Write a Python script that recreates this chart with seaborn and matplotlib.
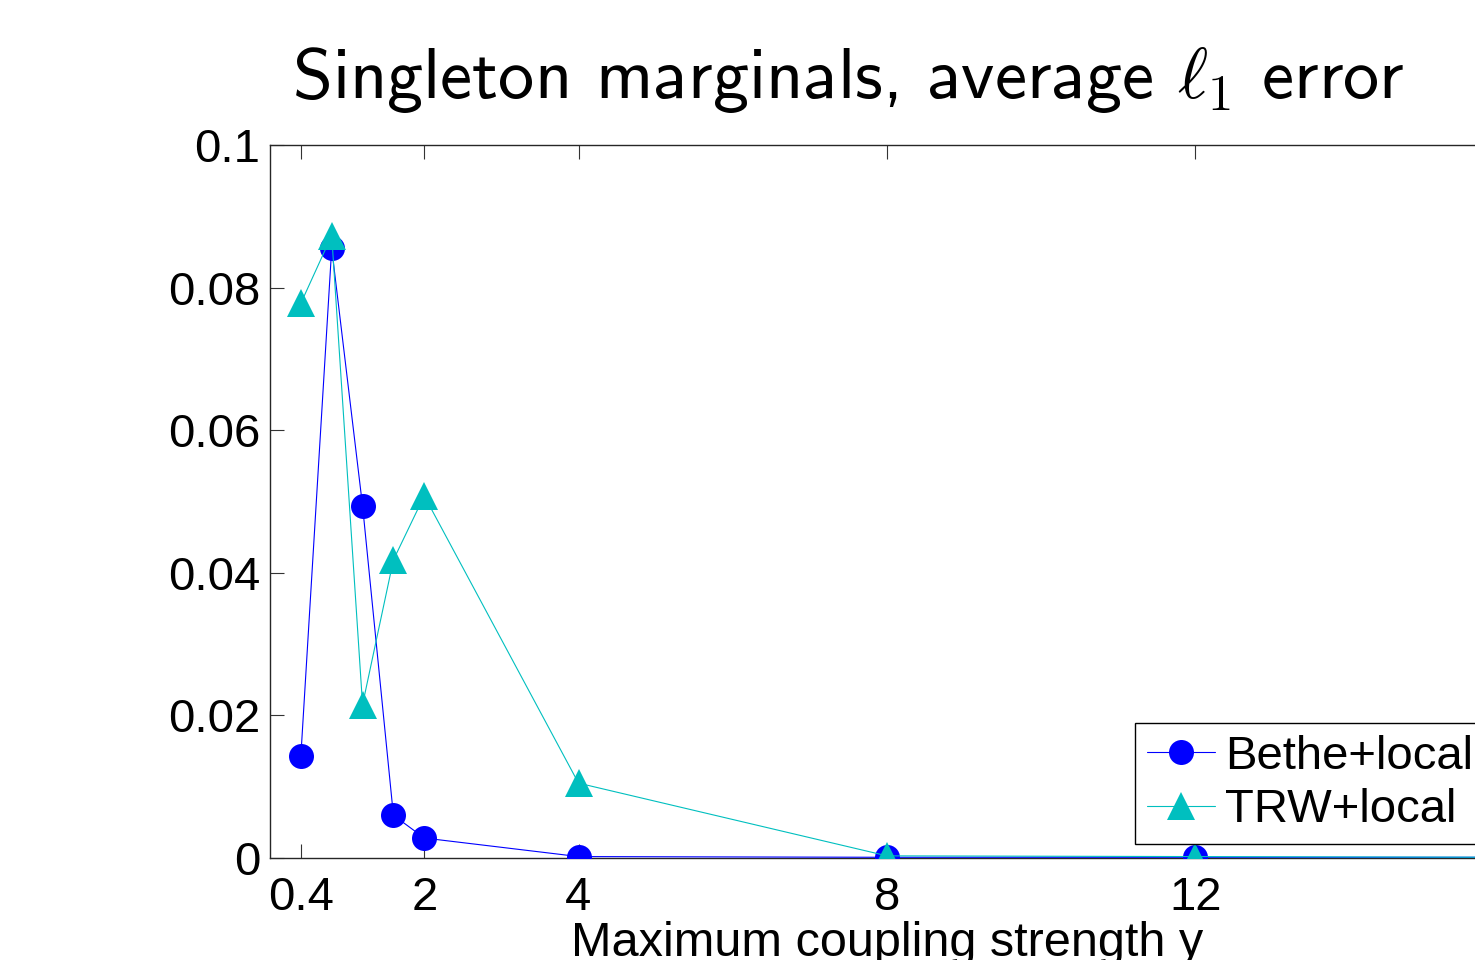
import matplotlib
matplotlib.use("Agg")
import matplotlib.pyplot as plt
import seaborn as sns
import pandas as pd

x_vals = [0.4, 0.8, 1.2, 1.6, 2, 4, 8, 12, 16]
bethe = [0.0143, 0.0855, 0.0494, 0.0060, 0.0028, 0.0002, 0.0001, 0.0001, 0.0001]
trw = [0.0778, 0.0873, 0.0215, 0.0418, 0.0508, 0.0105, 0.0003, 0.0002, 0.0001]
x_ticks = [0.4, 2, 4, 8, 12]
x_ticklabels = ["0.4", "2", "4", "8", "12"]
y_ticks = [0, 0.02, 0.04, 0.06, 0.08, 0.1]
y_ticklabels = ["0", "0.02", "0.04", "0.06", "0.08", "0.1"]
series_names = ["Bethe+local", "TRW+local"]

sns.set_style("ticks")
plt.rcParams["font.family"] = ["Liberation Sans", "DejaVu Sans"]
plt.rcParams["mathtext.fontset"] = "cm"
plt.rcParams["text.color"] = "black"
plt.rcParams["axes.labelcolor"] = "black"

fig = plt.figure(figsize=(14.75, 9.6), dpi=100)
W, H = 1475, 960
ax = fig.add_axes([270 / W, (H - 858) / H, 1234 / W, (858 - 145) / H])

df = pd.DataFrame({"x": x_vals * 2,
                   "y": bethe + trw,
                   "s": [series_names[0]] * len(x_vals) + [series_names[1]] * len(x_vals)})

sns.lineplot(data=df[df.s == series_names[0]], x="x", y="y", ax=ax, color="#0000ff",
             marker="o", markersize=18, markeredgewidth=0, linewidth=0.8,
             label=series_names[0], legend=False, zorder=3)
sns.lineplot(data=df[df.s == series_names[1]], x="x", y="y", ax=ax, color="#00bfbf",
             marker="^", markersize=20, markeredgewidth=0, linewidth=0.8,
             label=series_names[1], legend=False, zorder=4)

ax.set_xlim(0, 16)
ax.set_ylim(0, 0.1)
ax.set_xticks(x_ticks)
ax.set_xticklabels(x_ticklabels)
ax.set_yticks(y_ticks)
ax.set_yticklabels(y_ticklabels)
ax.tick_params(axis="both", direction="in", length=10, width=0.8, labelsize=34,
               top=True, right=True, pad=7, colors="#333333", labelcolor="black")
ax.tick_params(axis="x", pad=13)
for sp in ax.spines.values():
    sp.set_visible(True)
    sp.set_linewidth(1.0)
    sp.set_color("#262626")
ax.set_xlabel("Maximum coupling strength y", fontsize=35, labelpad=1, color="black")
ax.set_ylabel("")

fig.text(848 / W, (H - 80) / H, r"Singleton marginals, average $\ell_1$ error",
         fontsize=52, family="cmss10", ha="center", va="center", color="black")

leg = ax.legend(loc="upper left", bbox_to_anchor=(1135 / W, (H - 723) / H),
                bbox_transform=fig.transFigure, fontsize=34, frameon=True,
                fancybox=False, framealpha=1, edgecolor="black",
                handlelength=1.45, handletextpad=0.2, borderpad=0.25,
                labelspacing=0.2, borderaxespad=0)
leg.get_frame().set_linewidth(1.0)
for t in leg.get_texts():
    t.set_color("black")

fig.savefig("out.png", dpi=100)
